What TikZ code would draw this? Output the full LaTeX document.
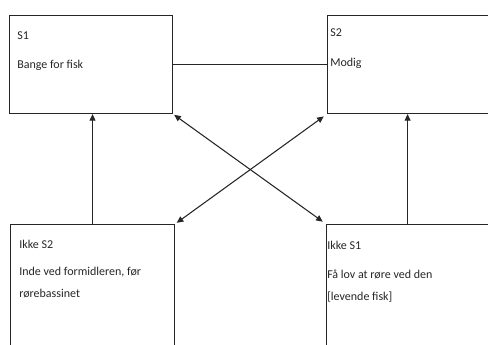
\documentclass[tikz,border=0pt]{standalone}
\usepackage{fontspec}
\setmainfont{Carlito}
\usetikzlibrary{arrows.meta,calc}
\begin{document}
\begin{tikzpicture}[x=0.75pt,y=-0.75pt,
  box/.style={draw=black!85,line width=0.8pt,rectangle,inner sep=0pt,anchor=north west},
  lbl/.style={anchor=base west,inner sep=0pt,font=\fontsize{9}{10}\selectfont,text=black!85},
  conn/.style={draw=black!85,line width=0.8pt},
  arr/.style={conn,-{Triangle[length=5pt,width=4.5pt]}},
  darr/.style={conn,{Triangle[length=5pt,width=4.5pt]}-{Triangle[length=5pt,width=4.5pt]}}]
\useasboundingbox (0,0) rectangle (488,345);
\clip (0,0) rectangle (488,345);
\node[box,minimum width=122.25pt,minimum height=73.5pt] (s1) at (9,15) {};
\node[box,minimum width=137.25pt,minimum height=73.5pt] (s2) at (327,15) {};
\node[box,minimum width=123pt,minimum height=112.5pt] (ns2) at (10,224) {};
\node[box,minimum width=138pt,minimum height=112.5pt] (ns1) at (326,224) {};
\node[lbl] (t1) at (17,40) {S1};
\node[lbl] (t2) at (17,69) {Bange for fisk};
\node[lbl] (t3) at (330,37) {S2};
\node[lbl] (t4) at (330,67) {Modig};
\node[lbl] (t5) at (19,248) {Ikke S2};
\node[lbl] (t6) at (19,275) {Inde ved formidleren, før};
\node[lbl] (t7) at (19,297) {rørebassinet};
\node[lbl] (t8) at (327,249) {Ikke S1};
\node[lbl] (t9) at (327,278) {Få lov at røre ved den};
\node[lbl] (t10) at (327,300) {[levende fisk]};
\draw[conn] (s1.east) -- (s2.west);
\draw[arr] (ns2.north) -- (ns2.north |- s1.south);
\coordinate (r) at (407.6,224);
\draw[arr] (r) -- (r |- s2.south);
\draw[darr,shorten <=1pt,shorten >=3pt] (s1.south east) -- (ns1.north west);
\draw[darr,shorten <=1.5pt,shorten >=3pt] (ns2.north east) -- (s2.south west);
\end{tikzpicture}
\end{document}
